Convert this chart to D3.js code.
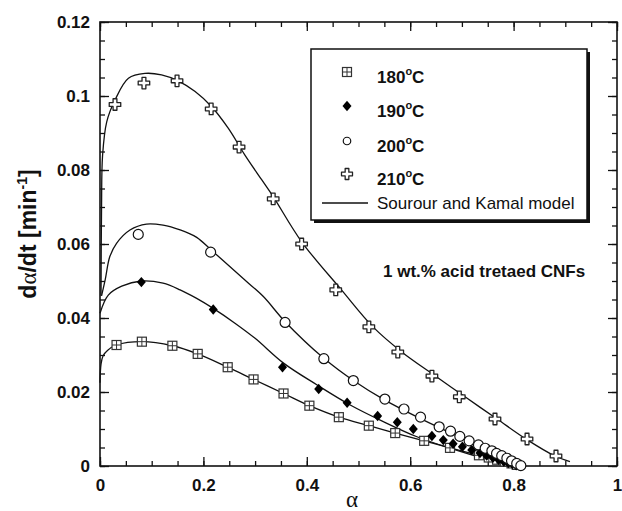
<!DOCTYPE html>
<html>
<head>
<meta charset="utf-8">
<script src="https://cdn.jsdelivr.net/npm/d3@7"></script>
<style>
  body { margin: 0; background: #fff; }
  text { font-family: "Liberation Sans", Arial, sans-serif; fill: #111; }
</style>
</head>
<body>
<div id="chart"></div>
<script>
// measured points, alpha vs rate
var alpha180 = [0.032, 0.081, 0.140, 0.189, 0.247, 0.297, 0.355, 0.405, 0.462, 0.520, 0.571, 0.627, 0.677, 0.733, 0.752, 0.768, 0.783, 0.796, 0.806];
var rate180  = [0.0327, 0.0336, 0.0325, 0.0303, 0.0267, 0.0234, 0.0196, 0.0163, 0.0132, 0.0109, 0.0089, 0.0068, 0.0049, 0.0029, 0.0023, 0.0017, 0.0012, 0.0007, 0.0003];

var alpha190 = [0.080, 0.219, 0.353, 0.423, 0.478, 0.537, 0.575, 0.606, 0.642, 0.664, 0.683, 0.701, 0.719, 0.735, 0.748, 0.760, 0.771, 0.781, 0.790, 0.798, 0.805];
var rate190  = [0.0497, 0.0423, 0.0267, 0.0208, 0.0171, 0.0135, 0.0118, 0.0100, 0.0081, 0.0070, 0.0060, 0.0052, 0.0043, 0.0035, 0.0028, 0.0022, 0.0017, 0.0012, 0.0008, 0.0005, 0.0002];

var alpha200 = [0.074, 0.214, 0.358, 0.433, 0.490, 0.551, 0.588, 0.620, 0.656, 0.678, 0.696, 0.714, 0.732, 0.745, 0.758, 0.767, 0.777, 0.787, 0.796, 0.806, 0.814];
var rate200  = [0.0626, 0.0578, 0.0388, 0.0290, 0.0231, 0.0181, 0.0154, 0.0132, 0.0106, 0.0094, 0.0080, 0.0068, 0.0057, 0.0048, 0.0041, 0.0034, 0.0028, 0.0021, 0.0014, 0.0007, 0.0001];

var alpha210 = [0.029, 0.085, 0.149, 0.215, 0.269, 0.335, 0.390, 0.456, 0.520, 0.576, 0.642, 0.695, 0.764, 0.826, 0.882];
var rate210  = [0.0977, 0.1035, 0.1041, 0.0965, 0.0862, 0.0722, 0.0600, 0.0476, 0.0376, 0.0308, 0.0243, 0.0187, 0.0127, 0.0073, 0.0027];

// Sourour and Kamal model curves
var fitA180 = [0.000, 0.002, 0.006, 0.015, 0.032, 0.081, 0.140, 0.189, 0.247, 0.297, 0.355, 0.405, 0.462, 0.520, 0.571, 0.627, 0.677, 0.733, 0.783, 0.810];
var fitR180 = [0.0225, 0.0275, 0.0298, 0.0313, 0.0327, 0.0336, 0.0325, 0.0303, 0.0267, 0.0234, 0.0196, 0.0163, 0.0132, 0.0109, 0.0089, 0.0068, 0.0049, 0.0029, 0.0012, 0.0000];

var fitA190 = [0.000, 0.016, 0.042, 0.080, 0.122, 0.155, 0.187, 0.219, 0.261, 0.300, 0.355, 0.420, 0.484, 0.548, 0.613, 0.677, 0.741, 0.799, 0.810];
var fitR190 = [0.0413, 0.0462, 0.0486, 0.0500, 0.0494, 0.0476, 0.0453, 0.0426, 0.0386, 0.0345, 0.0278, 0.0219, 0.0165, 0.0120, 0.0079, 0.0048, 0.0021, 0.0003, 0.0000];

var fitA200 = [0.003, 0.010, 0.019, 0.032, 0.058, 0.090, 0.122, 0.155, 0.187, 0.215, 0.251, 0.284, 0.316, 0.358, 0.433, 0.490, 0.551, 0.620, 0.696, 0.758, 0.814];
var fitR200 = [0.0460, 0.0503, 0.0566, 0.0602, 0.0638, 0.0654, 0.0651, 0.0638, 0.0618, 0.0584, 0.0539, 0.0498, 0.0458, 0.0390, 0.0291, 0.0231, 0.0178, 0.0128, 0.0078, 0.0040, 0.0000];

var fitA210 = [0.002, 0.003, 0.005, 0.013, 0.029, 0.055, 0.087, 0.119, 0.151, 0.184, 0.216, 0.248, 0.280, 0.313, 0.335, 0.390, 0.467, 0.528, 0.583, 0.648, 0.706, 0.768, 0.825, 0.880, 0.909];
var fitR210 = [0.0460, 0.0700, 0.0840, 0.0930, 0.0989, 0.1048, 0.1061, 0.1057, 0.1041, 0.1012, 0.0971, 0.0913, 0.0841, 0.0773, 0.0728, 0.0606, 0.0476, 0.0376, 0.0309, 0.0244, 0.0187, 0.0127, 0.0072, 0.0027, 0.0012];

var legendLabels = ["180", "190", "200", "210"];
var xMajor = [0, 0.2, 0.4, 0.6, 0.8, 1];
var yMajor = [0, 0.02, 0.04, 0.06, 0.08, 0.1, 0.12];

var svgWidth = 622;
var svgHeight = 511;

var svg = d3.select("#chart")
    .append("svg")
    .attr("width", svgWidth)
    .attr("height", svgHeight);

var x = d3.scaleLinear().domain([0, 1]).range([100, 617]);
var y = d3.scaleLinear().domain([0, 0.12]).range([466, 22]);

var xMinor = d3.range(0, 1.0001, 0.05).map(d => +d.toFixed(2));
var yMinor = d3.range(0, 0.12001, 0.005).map(d => +d.toFixed(3));
var fmt = d => String(+d.toFixed(2));

function styleAxis(g) {
    g.select(".domain").remove();
    g.selectAll("line").attr("stroke", "#111").attr("stroke-width", 1.3);
    g.selectAll("text")
        .style("font-size", "17px")
        .style("font-weight", "bold")
        .attr("fill", "#111");
}

// minor ticks on all four sides
svg.append("g").attr("transform", "translate(0,466)")
    .call(d3.axisBottom(x).tickValues(xMinor).tickSize(-5).tickFormat("")).call(styleAxis);
svg.append("g").attr("transform", "translate(0,22)")
    .call(d3.axisTop(x).tickValues(xMinor).tickSize(-5).tickFormat("")).call(styleAxis);
svg.append("g").attr("transform", "translate(100,0)")
    .call(d3.axisLeft(y).tickValues(yMinor).tickSize(-5).tickFormat("")).call(styleAxis);
svg.append("g").attr("transform", "translate(617,0)")
    .call(d3.axisRight(y).tickValues(yMinor).tickSize(-5).tickFormat("")).call(styleAxis);

// major ticks
svg.append("g").attr("transform", "translate(0,466)")
    .call(d3.axisBottom(x).tickValues(xMajor).tickSize(-9).tickPadding(13).tickFormat(fmt)).call(styleAxis);
svg.append("g").attr("transform", "translate(0,22)")
    .call(d3.axisTop(x).tickValues(xMajor).tickSize(-9).tickFormat("")).call(styleAxis);
svg.append("g").attr("transform", "translate(100,0)")
    .call(d3.axisLeft(y).tickValues(yMajor).tickSize(-9).tickPadding(10).tickFormat(fmt)).call(styleAxis);
svg.append("g").attr("transform", "translate(617,0)")
    .call(d3.axisRight(y).tickValues(yMajor).tickSize(-9).tickFormat("")).call(styleAxis);

// frame
svg.append("rect")
    .attr("x", 100).attr("y", 22)
    .attr("width", 517).attr("height", 444)
    .attr("fill", "none")
    .attr("stroke", "#111")
    .attr("stroke-width", 1.6);

// model lines
var line = d3.line()
    .x(d => x(d[0]))
    .y(d => y(d[1]))
    .curve(d3.curveCatmullRom.alpha(0.5));

var fits = [[fitA180, fitR180], [fitA190, fitR190], [fitA200, fitR200], [fitA210, fitR210]];
fits.forEach(function(f) {
    svg.append("path")
        .datum(d3.zip(f[0], f[1]))
        .attr("d", line)
        .attr("fill", "none")
        .attr("stroke", "#111")
        .attr("stroke-width", 1.3);
});

// marker shapes
function drawMarker(g, kind, s) {
    if (kind === 0) {
        var h = s / 2;
        g.append("rect").attr("x", -h).attr("y", -h).attr("width", s).attr("height", s)
            .attr("fill", "#fff").attr("stroke", "#333").attr("stroke-width", 1.2);
        g.append("path").attr("d", `M${-h},0H${h}M0,${-h}V${h}`)
            .attr("stroke", "#333").attr("stroke-width", 1);
    } else if (kind === 1) {
        var w = s * 0.5, t = s * 0.58;
        g.append("path").attr("d", `M0,${-t}L${w},0L0,${t}L${-w},0Z`)
            .attr("fill", "#000");
    } else if (kind === 2) {
        g.append("circle").attr("r", s / 2)
            .attr("fill", "#fff").attr("stroke", "#111").attr("stroke-width", 1.2);
    } else {
        var a = s / 2, b = s / 6;
        g.append("path")
            .attr("d", `M${-b},${-a}H${b}V${-b}H${a}V${b}H${b}V${a}H${-b}V${b}H${-a}V${-b}H${-b}Z`)
            .attr("fill", "#fff").attr("stroke", "#222").attr("stroke-width", 1.3)
            .attr("stroke-linejoin", "round");
    }
}

var pts = [[alpha180, rate180], [alpha190, rate190], [alpha200, rate200], [alpha210, rate210]];
var sizes = [9, 9, 10, 11.5];
pts.forEach(function(p, i) {
    svg.append("g").selectAll("g")
        .data(d3.zip(p[0], p[1]))
        .enter()
        .append("g")
        .attr("transform", d => `translate(${x(d[0])},${y(d[1])})`)
        .each(function() { drawMarker(d3.select(this), i, sizes[i]); });
});

// legend box with shadow
svg.append("rect").attr("x", 314).attr("y", 52).attr("width", 276).attr("height", 171).attr("fill", "#111");
svg.append("rect").attr("x", 311).attr("y", 49).attr("width", 276).attr("height", 171)
    .attr("fill", "#fff").attr("stroke", "#111").attr("stroke-width", 1.5);

var rowY = [76, 110, 145, 178];
var legSizes = [9, 9, 7.5, 11];
legendLabels.forEach(function(lab, i) {
    var g = svg.append("g").attr("transform", `translate(347,${rowY[i] - 4})`);
    drawMarker(g, i, legSizes[i]);
    var t = svg.append("text")
        .attr("x", 377).attr("y", rowY[i] + 7)
        .style("font-size", "17px").style("font-weight", "bold");
    t.append("tspan").text(lab);
    t.append("tspan").attr("dy", -8).style("font-size", "11px").text("o");
    t.append("tspan").attr("dy", 8).text("C");
});

svg.append("line").attr("x1", 322).attr("x2", 368).attr("y1", 203).attr("y2", 203)
    .attr("stroke", "#111").attr("stroke-width", 1.3);
svg.append("text").attr("x", 377).attr("y", 209)
    .style("font-size", "17px")
    .text("Sourour and Kamal model");

// annotation
svg.append("text").attr("x", 383).attr("y", 277)
    .style("font-size", "17px").style("font-weight", "bold")
    .text("1 wt.% acid tretaed CNFs");

// axis titles
svg.append("text")
    .attr("x", 352).attr("y", 507)
    .attr("text-anchor", "middle")
    .style("font-family", "'Liberation Serif', serif")
    .style("font-size", "23px")
    .text("α");

var yt = svg.append("text")
    .attr("transform", "translate(36,234) rotate(-90)")
    .attr("text-anchor", "middle")
    .style("font-size", "23px").style("font-weight", "bold");
yt.append("tspan").text("d");
yt.append("tspan").style("font-family", "'Liberation Serif', serif").style("font-weight", "normal").text("α");
yt.append("tspan").text("/dt [min");
yt.append("tspan").attr("dy", -9).style("font-size", "14px").text("-1");
yt.append("tspan").attr("dy", 9).text("]");
</script>
</body>
</html>
